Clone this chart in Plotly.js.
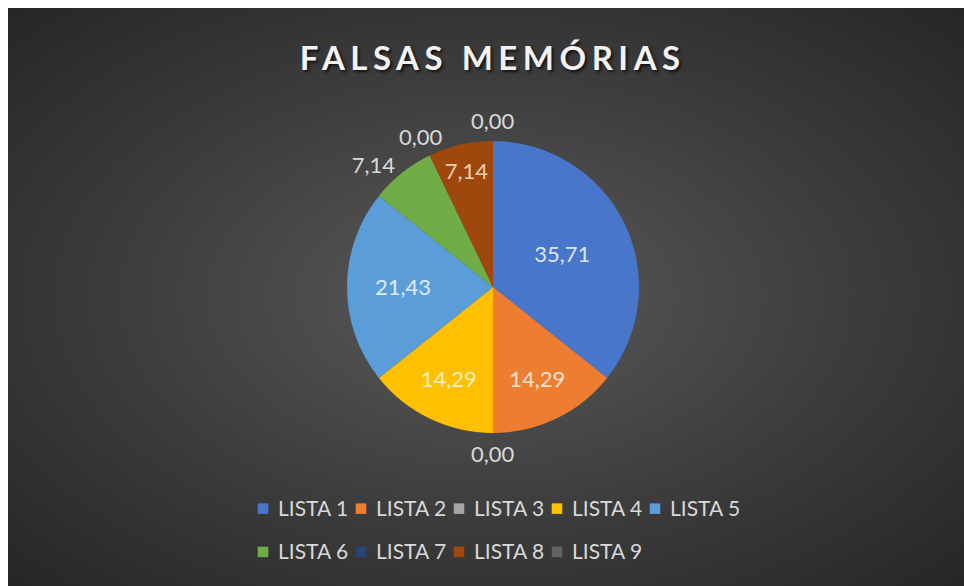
<!DOCTYPE html>
<html>
<head>
<meta charset="utf-8">
<script src="https://cdn.plot.ly/plotly-3.0.1.min.js"></script>
<style>
  html, body { margin: 0; padding: 0; background: #ffffff; width: 964px; height: 586px; overflow: hidden; }
  #chart {
    position: absolute; left: 8px; top: 8px; width: 956px; height: 578px;
    background: radial-gradient(ellipse farthest-corner at 50% 50%, #5a5a5a 0%, #3c3c3c 55%, #262626 100%);
  }
  #chart .gtitle { letter-spacing: 5.5px; }
  #chart .legend .scrollbox { clip-path: none !important; }
  #chart .legend path.legendpie { transform: translate(25px, 5px) scale(0.88); }
  #chart path.textline { display: none; }
</style>
</head>
<body>
<div id="chart"></div>
<script>
// ---- data ----
const categories = ['LISTA 1', 'LISTA 2', 'LISTA 3', 'LISTA 4', 'LISTA 5', 'LISTA 6', 'LISTA 7', 'LISTA 8', 'LISTA 9'];
const values = [35.71, 14.29, 0.00, 14.29, 21.43, 7.14, 0.00, 7.14, 0.00];
const chartTitle = 'FALSAS MEMÓRIAS';

// ---- styles ----
const sliceColors = ['#4876CB', '#ED7D31', '#A5A5A5', '#FFC000', '#5B9DD9', '#70AD47', '#264478', '#9E480E', '#636363'];
const labelPositions = ['inside', 'inside', 'none', 'inside', 'inside', 'outside', 'none', 'inside', 'none'];
const insideColors = ['#dbe4f4', '#fbe3d2', '#d9d9d9', '#fff0c2', '#dfecf8', '#d9d9d9', '#d9d9d9', '#f6cfb3', '#d9d9d9'];
const outsideColor = '#d9d9d9';
const labelFont = { family: 'Lato', size: 22, color: outsideColor };

const pieDomain = { x: [0.2198, 0.8085], y: [0.2647, 0.7699] };
const W = 956, H = 578;
const margin = { l: 230, r: 230, t: 0, b: 0 };

const legendLabels = categories.map(c => '<span style="font-size:21px">' + c + '</span>');

// zero-value slices: label just outside the rim, on the slice bisector (as in the source chart)
const total = values.reduce((a, b) => a + b, 0);
const plotW = W - margin.l - margin.r;
const radiusPx = (pieDomain.x[1] - pieDomain.x[0]) * plotW / 2;
const cxPaper = (pieDomain.x[0] + pieDomain.x[1]) / 2;
const cyPaper = (pieDomain.y[0] + pieDomain.y[1]) / 2;
const labelGap = 21;
const annotations = [];
let cum = 0;
values.forEach((v, i) => {
  const mid = (cum + v / 2) / total * 2 * Math.PI;
  cum += v;
  if (v === 0) {
    annotations.push({
      xref: 'paper', yref: 'paper', x: cxPaper, y: cyPaper,
      xshift: (radiusPx + labelGap) * Math.sin(mid),
      yshift: (radiusPx + labelGap) * Math.cos(mid),
      xanchor: 'center', yanchor: 'middle',
      text: v.toFixed(2).replace('.', ','),
      showarrow: false,
      font: labelFont
    });
  }
});

const trace = {
  type: 'pie',
  labels: legendLabels,
  values: values,
  sort: false,
  direction: 'clockwise',
  rotation: 0,
  marker: { colors: sliceColors, line: { width: 0 } },
  texttemplate: '%{value:.2f}',
  textposition: labelPositions,
  insidetextorientation: 'horizontal',
  insidetextfont: { family: 'Lato', size: 22, color: insideColors },
  outsidetextfont: labelFont,
  hoverinfo: 'none',
  domain: pieDomain
};

const layout = {
  width: W,
  height: H,
  paper_bgcolor: 'rgba(0,0,0,0)',
  plot_bgcolor: 'rgba(0,0,0,0)',
  separators: ', ',
  margin: margin,
  font: { family: 'Lato', color: '#d9d9d9' },
  title: {
    text: chartTitle,
    x: 0.507, xanchor: 'center',
    y: 0.9135, yanchor: 'middle', yref: 'container',
    font: { family: 'Lato', size: 33, weight: 'bold', color: '#f2f2f2', shadow: '2px 2px 3px rgba(0,0,0,0.7)' }
  },
  showlegend: true,
  legend: {
    orientation: 'h',
    x: 0, xanchor: 'left',
    y: 0.1886, yanchor: 'top',
    font: { family: 'Lato', size: 31, color: '#d9d9d9' },
    entrywidth: 53,
    bgcolor: 'rgba(0,0,0,0)',
    traceorder: 'normal'
  },
  annotations: annotations,
  uniformtext: { mode: 'show', minsize: 22 }
};

Plotly.newPlot('chart', [trace], layout, { staticPlot: true, displayModeBar: false });
</script>
</body>
</html>
